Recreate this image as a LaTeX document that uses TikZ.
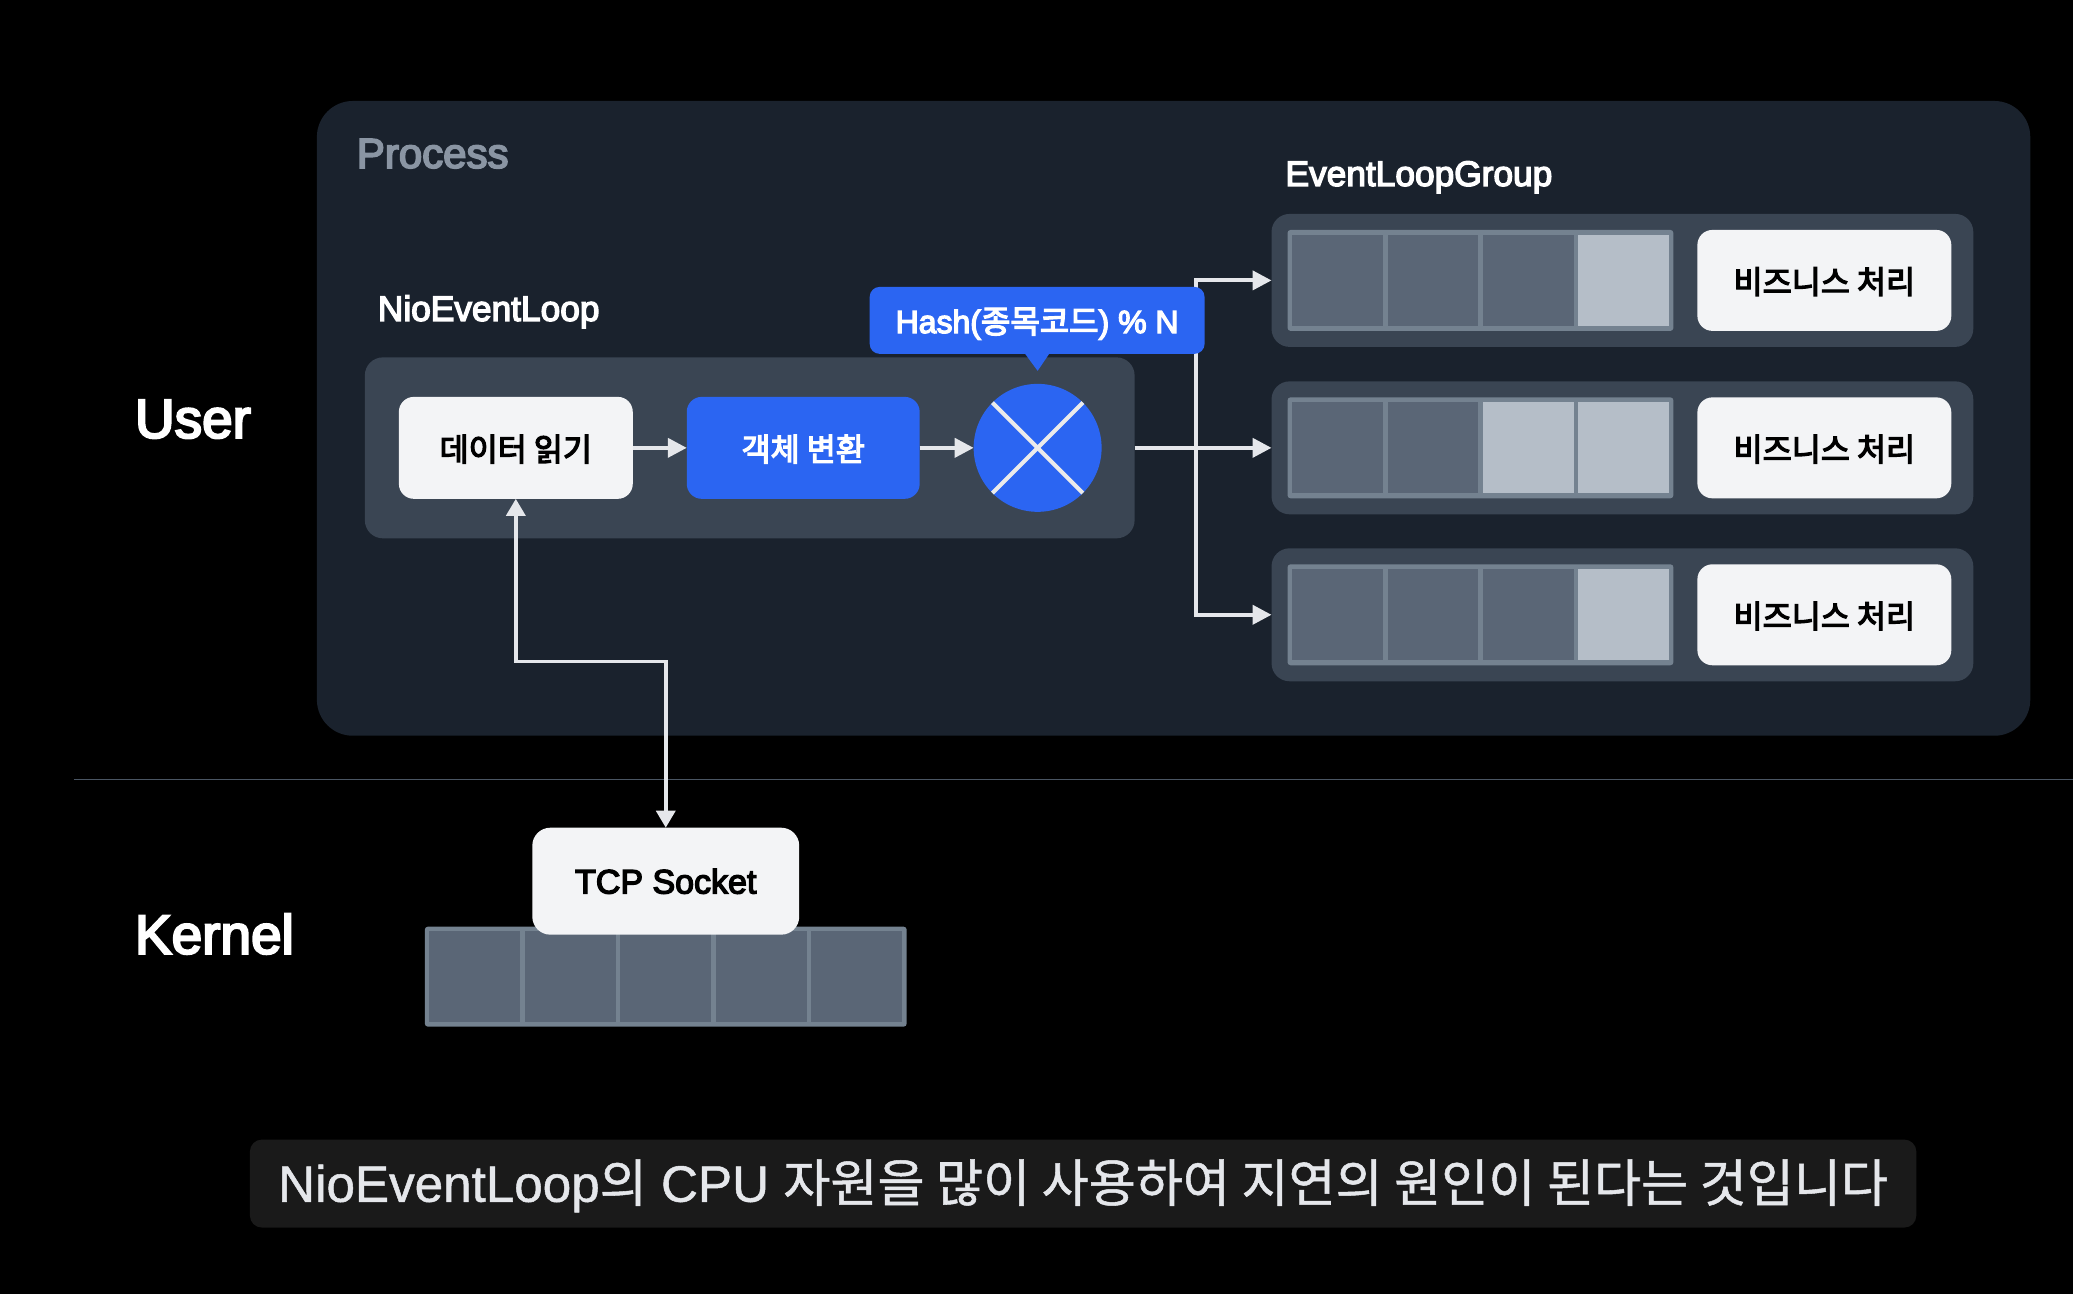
\documentclass[tikz,border=0pt]{standalone}
\usepackage{fontspec}
\setmainfont{Liberation Sans}[FakeBold=4]
\newfontfamily\krfont{Noto Sans CJK KR}[FakeBold=4]
\newfontfamily\capfont{Liberation Sans}[FakeBold=1]
\newfontfamily\capkr{Noto Sans CJK KR}[FakeBold=1]
\newcommand{\kr}[1]{{\krfont #1}}
\newcommand{\fsize}[1]{\fontsize{#1}{#1}\selectfont}
\usetikzlibrary{arrows.meta,positioning}
\definecolor{bgprocess}{HTML}{1A222D}
\definecolor{bgpanel}{HTML}{3A4553}
\definecolor{cellframe}{HTML}{748290}
\definecolor{celldark}{HTML}{5A6676}
\definecolor{celllight}{HTML}{B5BEC8}
\definecolor{boxwhite}{HTML}{F3F4F6}
\definecolor{boxblue}{HTML}{2B65F2}
\definecolor{linegray}{HTML}{E5E7EB}
\definecolor{rulegray}{HTML}{4A5563}
\definecolor{capbg}{HTML}{1A1A1A}
\definecolor{procgray}{HTML}{8A95A3}

\begin{document}
\begin{tikzpicture}[
      x=1pt, y=-1pt,
      every node/.style={inner sep=0pt, outer sep=0pt},
      panel/.style={fill=bgpanel, rounded corners=18pt},
      whitebox/.style={fill=boxwhite, rounded corners=15pt, text=black, text depth=-1pt, font=\fsize{31.6}},
      bluebox/.style={fill=boxblue, rounded corners=15pt, text=white, text depth=-1pt, font=\fsize{31.6}},
      label/.style={text=white, anchor=base west, font=\fsize{35.3}},
      sidelabel/.style={text=white, anchor=base west, font=\fsize{55}},
      qbar/.style={fill=cellframe, rounded corners=3pt},
      cell/.style={fill=celldark, minimum width=91pt, minimum height=91pt},
      cellon/.style={cell, fill=celllight},
      arrow/.style={-{Triangle[length=19pt, width=19pt]}, line width=4pt, draw=linegray},
      sockarrow/.style={{Triangle[length=17pt, width=19pt]}-{Triangle[length=17pt, width=19pt]}, line width=3.5pt, draw=linegray}
    ]
      \fill[black] (0,0) rectangle (2074,1294);
      \node[fill=bgprocess, rounded corners=36pt, minimum width=1714pt, minimum height=635pt] (proc) at (1174,418.5) {};
      \node[anchor=base west, text=procgray, font=\fsize{42}] (proctitle) at (357,168) {Process};
      \coordinate (ruleL) at (74,780);
      \coordinate (ruleR) at (2074,780);
      \draw[rulegray, line width=1.5pt] (ruleL) -- (ruleR);
      \node[sidelabel] (user) at (135,438) {User};
      \node[sidelabel] (kernel) at (135,954) {Kernel};
      % event loop
      \node[label] (looptitle) at (378,321) {NioEventLoop};
      \node[panel, minimum width=770pt, minimum height=181pt] (loop) at (750,448) {};
      \node[whitebox, minimum width=234pt, minimum height=102pt] (read) at (516,448) {\kr{데이터 읽기}};
      \node[bluebox, minimum width=233pt, minimum height=102pt, right=54pt of read] (conv) {\kr{객체 변환}};
      \node[circle, fill=boxblue, minimum size=128pt, right=54pt of conv] (mix) {};
      \draw[white!92!black, line width=4pt] (mix.north west) -- (mix.south east);
      \draw[white!92!black, line width=4pt] (mix.north east) -- (mix.south west);
      \draw[arrow] (read) -- (conv);
      \draw[arrow] (conv) -- (mix);
      % event loop group
      \node[label] (grouptitle) at (1286,186) {EventLoopGroup};
      \node[panel, minimum width=702pt, minimum height=133pt] (grp1) at (1623,280.5) {};
      \node[panel, minimum width=702pt, minimum height=133pt] (grp2) at (1623,448) {};
      \node[panel, minimum width=702pt, minimum height=133pt] (grp3) at (1623,615) {};
      \node[qbar, minimum width=386pt, minimum height=101pt] (q1) at (1481,280.5) {};
      \node[cell, anchor=west] (q1a) at ([xshift=4.5pt]q1.west) {};
      \node[cell, right=4.5pt of q1a] (q1b) {};
      \node[cell, right=4.5pt of q1b] (q1c) {};
      \node[cellon, right=4.5pt of q1c] (q1d) {};
      \node[qbar, minimum width=386pt, minimum height=101pt] (q2) at (1481,448) {};
      \node[cell, anchor=west] (q2a) at ([xshift=4.5pt]q2.west) {};
      \node[cell, right=4.5pt of q2a] (q2b) {};
      \node[cellon, right=4.5pt of q2b] (q2c) {};
      \node[cellon, right=4.5pt of q2c] (q2d) {};
      \node[qbar, minimum width=386pt, minimum height=101pt] (q3) at (1481,615) {};
      \node[cell, anchor=west] (q3a) at ([xshift=4.5pt]q3.west) {};
      \node[cell, right=4.5pt of q3a] (q3b) {};
      \node[cell, right=4.5pt of q3b] (q3c) {};
      \node[cellon, right=4.5pt of q3c] (q3d) {};
      \node[whitebox, minimum width=254pt, minimum height=101pt, right=24pt of q1] (work1) {\kr{비즈니스 처리}};
      \node[whitebox, minimum width=254pt, minimum height=101pt, right=24pt of q2] (work2) {\kr{비즈니스 처리}};
      \node[whitebox, minimum width=254pt, minimum height=101pt, right=24pt of q3] (work3) {\kr{비즈니스 처리}};
      \coordinate (split) at (1196,448);
      \draw[arrow] (loop.east) -- (grp2.west);
      \draw[arrow] (split) |- (grp1.west);
      \draw[arrow] (split) |- (grp3.west);
      % hash bubble goes over the split line
      \node[fill=boxblue, rounded corners=10pt, minimum width=335pt, minimum height=67pt, text=white, text depth=0pt, font=\fsize{32}] (hash) at (1037.5,320.5) {Hash(\kr{종목코드}) \% N};
      \coordinate (hashtip) at (1038,371);
      \fill[boxblue] ([xshift=-12pt]hash.south) -- ([xshift=12pt]hash.south) -- (hashtip) -- cycle;
      % kernel side
      \node[qbar, minimum width=482pt, minimum height=100pt] (sockq) at (666,977) {};
      \node[cell, anchor=west] (s1) at ([xshift=4.5pt]sockq.west) {};
      \node[cell, right=4.5pt of s1] (s2) {};
      \node[cell, right=4.5pt of s2] (s3) {};
      \node[cell, right=4.5pt of s3] (s4) {};
      \node[cell, right=4.5pt of s4] (s5) {};
      \node[whitebox, rounded corners=18pt, minimum width=267pt, minimum height=107pt, font=\fsize{34}] (tcp) at (666,881.5) {TCP Socket};
      \coordinate (bendA) at (516,661.5);
      \coordinate (bendB) at (666,661.5);
      \draw[sockarrow] (read.south) -- (bendA) -- (bendB) -- (tcp.north);
      % caption
      \node[fill=capbg, rounded corners=12pt, minimum width=1667pt, minimum height=88pt, text=linegray, text depth=6pt, font=\fsize{51.2}\capfont] (caption) at (1083.5,1184) {NioEventLoop{\capkr 의} CPU {\capkr 자원을 많이 사용하여 지연의 원인이 된다는 것입니다}};
    \end{tikzpicture}
\end{document}
